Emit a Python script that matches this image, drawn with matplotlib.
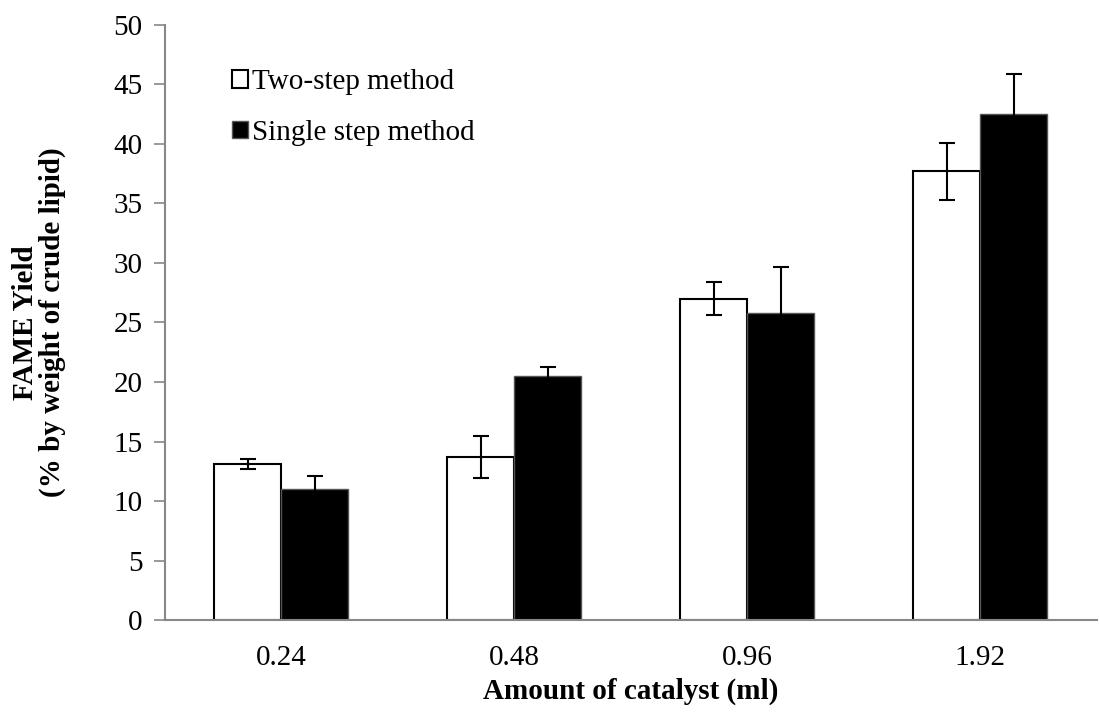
import numpy as np
import matplotlib.pyplot as plt

plt.rcParams['font.family'] = ['Liberation Serif', 'DejaVu Serif']

catalyst = ['0.24', '0.48', '0.96', '1.92']
two_step = [13.1, 13.7, 27.0, 37.7]
two_step_err = [0.45, 1.8, 1.4, 2.4]
single_step = [11.0, 20.5, 25.8, 42.5]
single_step_err = [1.1, 0.75, 3.9, 3.4]

fig = plt.figure(figsize=(10.99, 7.13), dpi=100)
ax = fig.add_axes([0.150, 0.1304, 0.848, 0.8346])

x = np.arange(len(catalyst))
w = 0.2875
ekw = dict(ecolor='black', elinewidth=1.5, capsize=6, capthick=1.5)
ax.bar(x - w / 2, two_step, w, yerr=two_step_err, color='white',
       edgecolor='black', linewidth=1.5, label='Two-step method', error_kw=ekw)
ax.bar(x + w / 2, single_step, w, yerr=single_step_err, color='black',
       edgecolor='#555555', linewidth=1.0, label='Single step method', error_kw=ekw)

ax.set_xlim(-0.5, 3.5)
ax.set_ylim(0, 50)
ax.set_yticks(range(0, 51, 5))
ax.set_xticks(x)
ax.set_xticklabels(catalyst)
ax.tick_params(axis='y', labelsize=21, length=8, width=1.2, color='#888888', pad=8)
ax.tick_params(axis='x', labelsize=21, length=0, pad=18)
for s in ['top', 'right']:
    ax.spines[s].set_visible(False)
for s in ['left', 'bottom']:
    ax.spines[s].set_color('#888888')
    ax.spines[s].set_linewidth(1.5)

ax.set_xlabel('Amount of catalyst (ml)', fontsize=21, fontweight='bold', labelpad=5)
ax.set_ylabel('FAME Yield\n(% by weight of crude lipid)', fontsize=21,
              fontweight='bold', labelpad=34, linespacing=1.0)

# legend sits inside the axes, top-left
ax.legend(loc='upper left', bbox_to_anchor=(0.053, 0.955), frameon=False, fontsize=21,
          handlelength=0.55, handleheight=0.55, handletextpad=0.15, labelspacing=0.85,
          borderaxespad=0.2)

fig.savefig('out.png', dpi=100)
